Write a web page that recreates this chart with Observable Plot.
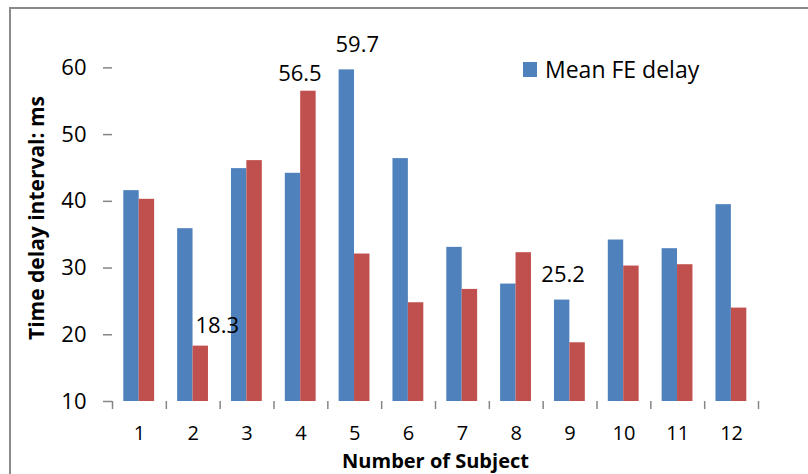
<!DOCTYPE html>
<html>
<head>
<meta charset="utf-8">
<script src="https://cdn.jsdelivr.net/npm/d3@7"></script>
<script src="https://cdn.jsdelivr.net/npm/@observablehq/plot@0.6"></script>
<style>
  html, body { margin: 0; padding: 0; background: #fff; }
  #wrap { position: relative; width: 808px; height: 474px; overflow: hidden; font-family: "Open Sans", sans-serif; background: #fff; }
  #border { position: absolute; left: 9px; top: 7px; width: 900px; height: 600px; border-top: 2px solid #8a8a8a; border-left: 2px solid #8a8a8a; pointer-events: none; }
  #legend { position: absolute; left: 523px; top: 53px; display: flex; align-items: center; font-size: 23px; color: #000; }
  #legend .sw { width: 14px; height: 15px; background: #4F81BD; margin-right: 8px; }
  #chart { position: absolute; left: 0; top: 0; }
</style>
</head>
<body>
<div id="wrap">
  <div id="chart"></div>
  <div id="legend"><span class="sw"></span><span>Mean FE delay</span></div>
  <div id="border"></div>
</div>
<script>
// ---- data ----
const subjects = [1, 2, 3, 4, 5, 6, 7, 8, 9, 10, 11, 12];
const meanFEDelay = [41.6, 35.9, 44.9, 44.2, 59.7, 46.4, 33.1, 27.6, 25.2, 34.2, 32.9, 39.5];
const secondDelay = [40.3, 18.3, 46.1, 56.5, 32.1, 24.8, 26.8, 32.3, 18.8, 30.3, 30.5, 24.0];
const yTicks = [10, 20, 30, 40, 50, 60];
const labelSubjects = [2, 4, 5, 9];
const labelSeries = ["second", "second", "fe", "fe"];
const yTitle = "Time delay interval: ms";
const xTitle = "Number of Subject";
const legendLabel = "Mean FE delay";

// ---- build ----
const W = 808, H = 474, ML = 112, MR = 50, MT = 34, MB = 73;
const bw = (W - ML - MR) / subjects.length;
const blue = "#4F81BD", red = "#C0504D", gray = "#868686";

const feRows = subjects.map((s, i) => ({subject: s, value: meanFEDelay[i]}));
const secRows = subjects.map((s, i) => ({subject: s, value: secondDelay[i]}));

const labelOffsets = {2: [24, -13.6], 4: [-1, -10], 5: [2.5, -17.7], 9: [-7, -18]};
const labelMarks = labelSubjects.map((s, k) => {
  const i = subjects.indexOf(s);
  const v = labelSeries[k] === "fe" ? meanFEDelay[i] : secondDelay[i];
  const [dx, dy] = labelOffsets[s];
  return Plot.text([{subject: s, value: v}], {
    x: "subject", y: "value", text: d => d.value.toFixed(1),
    dx, dy, lineAnchor: "bottom", fontSize: 22, fill: "black"
  });
});

const chart = Plot.plot({
  width: W, height: H,
  marginLeft: ML, marginRight: MR, marginTop: MT, marginBottom: MB,
  style: {fontFamily: "Open Sans", background: "transparent"},
  x: {type: "band", domain: subjects, padding: 0, round: false},
  y: {domain: [10, 65]},
  marks: [
    Plot.barY(feRows, {x: "subject", y1: 10, y2: "value", fill: blue, insetLeft: 11.3, insetRight: bw - 11.3 - 15.4}),
    Plot.barY(secRows, {x: "subject", y1: 10, y2: "value", fill: red, insetLeft: 26.7, insetRight: 11.7}),
    Plot.axisY(yTicks, {tickSize: 9, tickPadding: 17, fontSize: 22, line: true, stroke: gray, strokeWidth: 1.5, fill: "black", label: null}),
    Plot.axisX({tickSize: 0, tickPadding: 24, fontSize: 20, line: true, stroke: gray, strokeWidth: 1.5, fill: "black", label: null}),
    Plot.axisX(subjects, {tickSize: 8, tickFormat: () => "", dx: -bw / 2, stroke: gray, strokeWidth: 1.5, label: null}),
    Plot.axisX([subjects[subjects.length - 1]], {tickSize: 8, tickFormat: () => "", dx: bw / 2, stroke: gray, strokeWidth: 1.5, label: null}),
    ...labelMarks,
    Plot.text([yTitle], {frameAnchor: "left", textAnchor: "middle", dx: -75, rotate: -90, fontSize: 21, fontWeight: "bold", fill: "black"}),
    Plot.text([xTitle], {frameAnchor: "bottom", dy: 66, lineAnchor: "bottom", fontSize: 20, fontWeight: "bold", fill: "black"})
  ]
});
document.getElementById("chart").appendChild(chart);
</script>
</body>
</html>
